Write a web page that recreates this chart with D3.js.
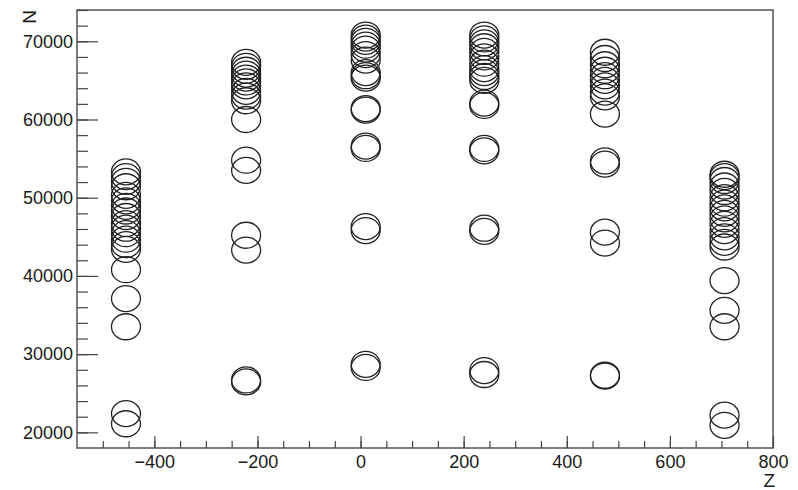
<!DOCTYPE html>
<html>
<head>
<meta charset="utf-8">
<script src="https://cdn.jsdelivr.net/npm/d3@7/dist/d3.min.js"></script>
<style>
  body { margin: 0; background: #fff; }
  svg text { font-family: "Liberation Sans", Arial, sans-serif; fill: #1a1a1a; }
</style>
</head>
<body>
<div id="chart"></div>
<script>
// Z position of each column of points
var columnZ = [-455, -222, 10, 240, 474, 706];

// N values read for each column
var col1N = [53300, 52700, 52100, 51400, 50300, 49600, 48900, 48300, 47600, 46700, 46100, 45400, 44700, 44000, 43400, 40800, 37100, 33500, 22400, 21100];
var col2N = [67300, 66800, 66300, 65800, 65300, 64800, 64300, 63600, 63000, 62400, 60000, 54800, 53500, 45200, 43300, 26700, 26450];
var col3N = [70800, 70400, 70000, 69500, 69000, 68300, 67600, 66000, 65600, 65300, 61400, 61200, 56600, 56300, 46300, 45800, 28700, 28300];
var col4N = [70800, 70300, 69800, 69300, 68700, 68000, 67200, 66500, 66000, 65500, 65000, 62100, 61800, 56300, 56000, 46100, 45700, 27900, 27400];
var col5N = [68600, 67800, 67000, 66300, 65600, 65000, 64300, 63500, 62900, 60700, 54700, 54300, 45600, 44200, 27300, 27200];
var col6N = [53000, 52700, 52200, 51500, 50800, 50000, 49300, 48700, 48000, 47300, 46600, 45800, 45000, 44300, 43700, 39400, 35600, 33500, 22200, 20900];

var columnsN = [col1N, col2N, col3N, col4N, col5N, col6N];

// axis ranges and ticks
var zDomain = [-550, 800],
    nDomain = [18000, 74000],
    zMajor  = [-400, -200, 0, 200, 400, 600, 800],
    nMajor  = [20000, 30000, 40000, 50000, 60000, 70000];

var width     = 798,
    height    = 490,
    padLeft   = 77,
    padRight  = 773,
    padTop    = 10,
    padBottom = 448;

var svg = d3.select('#chart')
	.append('svg')
	.attr('width', width)
	.attr('height', height);

var x = d3.scaleLinear().domain(zDomain).range([padLeft, padRight]);
var y = d3.scaleLinear().domain(nDomain).range([padBottom, padTop]);

// flatten the columns into points
var points = [];
columnsN.forEach(function(col, i){
	col.forEach(function(n){
		points.push({z: columnZ[i], n: n});
	});
});

// frame
svg.append('rect')
	.attr('x', padLeft)
	.attr('y', padTop)
	.attr('width', padRight - padLeft)
	.attr('height', padBottom - padTop)
	.attr('fill', 'none')
	.attr('stroke', '#555')
	.attr('stroke-width', 1.5);

// markers
svg.append('g')
	.selectAll('ellipse')
	.data(points)
	.enter()
	.append('ellipse')
	.attr('cx', function(d){ return x(d.z); })
	.attr('cy', function(d){ return y(d.n); })
	.attr('rx', 14.5)
	.attr('ry', 13)
	.attr('fill', 'none')
	.attr('stroke', '#222')
	.attr('stroke-width', 1.3);

// x axis: major and minor ticks pointing inward
var xMinor = svg.append('g')
	.attr('transform', 'translate(0,' + padBottom + ')')
	.call(d3.axisBottom(x).tickValues(d3.range(-500, 800, 50)).tickSize(-7).tickFormat(''));
xMinor.select('.domain').remove();

var xAxis = svg.append('g')
	.attr('transform', 'translate(0,' + padBottom + ')')
	.call(d3.axisBottom(x).tickValues(zMajor).tickSize(-12).tickPadding(7)
		.tickFormat(function(d){ return d < 0 ? '\u2212' + Math.abs(d) : d; }));
xAxis.select('.domain').remove();

// y axis
var yMinor = svg.append('g')
	.attr('transform', 'translate(' + padLeft + ',0)')
	.call(d3.axisLeft(y).tickValues(d3.range(20000, 74001, 2000)).tickSize(-11).tickFormat(''));
yMinor.select('.domain').remove();

var yAxis = svg.append('g')
	.attr('transform', 'translate(' + padLeft + ',0)')
	.call(d3.axisLeft(y).tickValues(nMajor).tickSize(-21).tickPadding(4).tickFormat(d3.format('d')));
yAxis.select('.domain').remove();

svg.selectAll('.tick line').attr('stroke', '#444').attr('stroke-width', 1.2);
svg.selectAll('.tick text')
	.attr('font-size', 18)
	.attr('fill', '#1a1a1a')
	.style('font-family', '"Liberation Sans", Arial, sans-serif');

// axis titles
svg.append('text')
	.attr('x', 775)
	.attr('y', 487)
	.attr('text-anchor', 'end')
	.attr('font-size', 19)
	.text('Z');

svg.append('text')
	.attr('transform', 'translate(36,10) rotate(-90)')
	.attr('text-anchor', 'end')
	.attr('font-size', 19)
	.text('N');
</script>
</body>
</html>
